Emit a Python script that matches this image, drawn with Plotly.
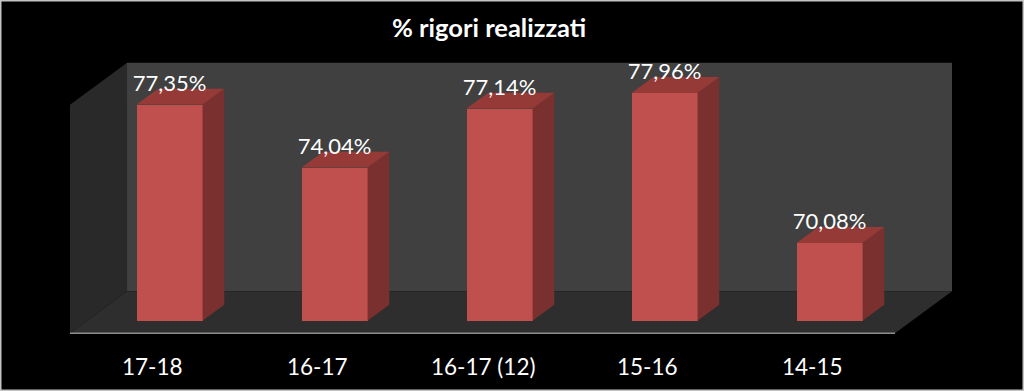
import plotly.graph_objects as go

# ---- data ----
categories = ["17-18", "16-17", "16-17 (12)", "15-16", "14-15"]
values = [77.35, 74.04, 77.14, 77.96, 70.08]
title_text = "% rigori realizzati"

# ---- value axis / 3D geometry ----
AXIS_MIN, AXIS_MAX = 66.0, 78.0
DX, DY = 0.3455, 2.206          # oblique offset for full floor depth (x units, % units)
BAR_FRONT, BAR_BACK = 0.30, 0.68  # depth fractions of bar faces
BAR_W = 0.4
LABEL_OFF = 1.0

FONT = "Lato, 'Open Sans', sans-serif"
C_FRONT, C_SIDE, C_TOP = "#C0504D", "#79302E", "#963A37"


def P(x, v, d):
    """project (x, value, depth) into the 2D data plane"""
    return x + d * DX, v + (d - BAR_FRONT) * DY


def poly(points):
    xs = [p[0] for p in points] + [points[0][0]]
    ys = [p[1] for p in points] + [points[0][1]]
    return xs, ys


n = len(categories)
xl0, xr0 = -0.5, n - 0.5

shapes = []


def add_poly(points, color, line=None):
    xs, ys = poly(points)
    path = "M " + " L ".join(f"{x},{y}" for x, y in zip(xs, ys)) + " Z"
    shapes.append(dict(type="path", path=path, xref="x", yref="y", fillcolor=color,
                       line=dict(width=0) if line is None else line, layer="below"))


# back wall
add_poly([P(xl0, AXIS_MIN, 1), P(xr0, AXIS_MIN, 1), P(xr0, AXIS_MAX, 1), P(xl0, AXIS_MAX, 1)], "#404040")
# side wall
add_poly([P(xl0, AXIS_MIN, 0), P(xl0, AXIS_MIN, 1), P(xl0, AXIS_MAX, 1), P(xl0, AXIS_MAX, 0)], "#292929")
# floor
add_poly([P(xl0, AXIS_MIN, 0), P(xr0, AXIS_MIN, 0), P(xr0, AXIS_MIN, 1), P(xl0, AXIS_MIN, 1)], "#2E2E2E")
# floor front edge
fa, fb = P(xl0, AXIS_MIN, 0), P(xr0, AXIS_MIN, 0)
shapes.append(dict(type="line", xref="x", yref="y", x0=fa[0], y0=fa[1], x1=fb[0], y1=fb[1],
                   line=dict(color="#8C8C8C", width=1.5), layer="below"))
# image border
shapes.append(dict(type="rect", xref="paper", yref="paper", x0=0, y0=0, x1=1, y1=1,
                   line=dict(color="#C4C4C4", width=3), layer="above"))

# side & top faces of bars
side_x, side_y, top_x, top_y = [], [], [], []
bar_x = []
for i, v in enumerate(values):
    xc = i + BAR_FRONT * DX
    bar_x.append(xc)
    xl, xr = i - BAR_W / 2, i + BAR_W / 2
    sx, sy = poly([P(xr, AXIS_MIN, BAR_FRONT), P(xr, v, BAR_FRONT), P(xr, v, BAR_BACK), P(xr, AXIS_MIN, BAR_BACK)])
    side_x += sx + [None]
    side_y += sy + [None]
    tx, ty = poly([P(xl, v, BAR_FRONT), P(xr, v, BAR_FRONT), P(xr, v, BAR_BACK), P(xl, v, BAR_BACK)])
    top_x += tx + [None]
    top_y += ty + [None]

fig = go.Figure()
fig.add_trace(go.Scatter(x=side_x, y=side_y, mode="lines", fill="toself", fillcolor=C_SIDE,
                         line=dict(width=0, color=C_SIDE), hoverinfo="skip", showlegend=False))
fig.add_trace(go.Scatter(x=top_x, y=top_y, mode="lines", fill="toself", fillcolor=C_TOP,
                         line=dict(width=0, color=C_TOP), hoverinfo="skip", showlegend=False))
fig.add_trace(go.Bar(x=bar_x, y=[v - AXIS_MIN for v in values], base=AXIS_MIN, width=BAR_W,
                     marker=dict(color=C_FRONT, line=dict(width=0)), showlegend=False,
                     customdata=categories, hovertemplate="%{customdata}: %{y}<extra></extra>"))
labels = [f"{v:.2f}".replace(".", ",") + "%" for v in values]
fig.add_trace(go.Scatter(x=bar_x, y=[v + LABEL_OFF for v in values], mode="text", text=labels,
                         textposition="middle center",
                         textfont=dict(family=FONT, size=22, color="white"),
                         hoverinfo="skip", showlegend=False))

annotations = []
for i, c in enumerate(categories):
    annotations.append(dict(x=i, y=63.62, xref="x", yref="y", text=c, showarrow=False,
                            font=dict(family=FONT, size=22.5, color="white"),
                            xanchor="center", yanchor="middle"))
annotations.append(dict(x=489 / 1024, y=1 - 27 / 391, xref="paper", yref="paper",
                        text=f"<b>{title_text}</b>", showarrow=False,
                        font=dict(family=FONT, size=25.5, color="white"),
                        xanchor="center", yanchor="middle"))

fig.update_layout(
    width=1024, height=391, margin=dict(l=0, r=0, t=0, b=0),
    paper_bgcolor="black", plot_bgcolor="black",
    xaxis=dict(range=[-0.92424, 5.28182], visible=False, fixedrange=True),
    yaxis=dict(range=[62.3078, 82.8435], visible=False, fixedrange=True),
    shapes=shapes, annotations=annotations, bargap=0,
)

fig.write_html("out.html")
